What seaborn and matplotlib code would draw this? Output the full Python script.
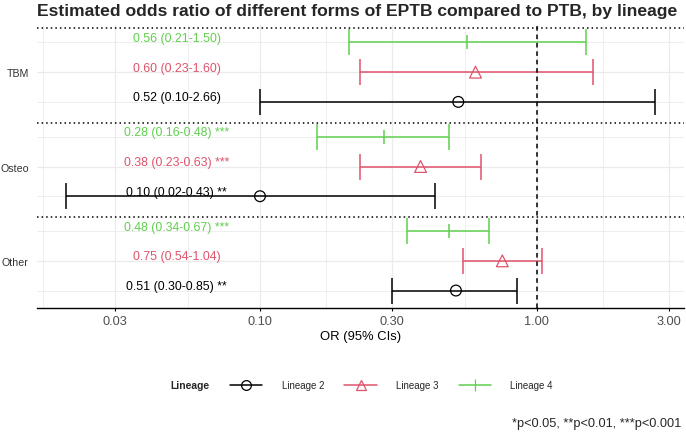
import numpy as np
import pandas as pd
import matplotlib
matplotlib.use("Agg")
import matplotlib.pyplot as plt
import matplotlib.transforms as mtransforms
import seaborn as sns
from matplotlib.lines import Line2D
from matplotlib.ticker import FixedLocator, NullFormatter

# data
sites = ["TBM", "Osteo", "Other"]
lineages = ["Lineage 2", "Lineage 3", "Lineage 4"]

or_l2 = [0.52, 0.10, 0.51]
lo_l2 = [0.10, 0.02, 0.30]
hi_l2 = [2.66, 0.43, 0.85]
stars_l2 = ["", "**", "**"]

or_l3 = [0.60, 0.38, 0.75]
lo_l3 = [0.23, 0.23, 0.54]
hi_l3 = [1.60, 0.63, 1.04]
stars_l3 = ["", "***", ""]

or_l4 = [0.56, 0.28, 0.48]
lo_l4 = [0.21, 0.16, 0.34]
hi_l4 = [1.50, 0.48, 0.67]
stars_l4 = ["", "***", "***"]

x_ticks = [0.03, 0.10, 0.30, 1.00, 3.00]
x_tick_labels = ["0.03", "0.10", "0.30", "1.00", "3.00"]
caption = "*p<0.05, **p<0.01, ***p<0.001"

# styling
palette = {"Lineage 2": "#000000", "Lineage 3": "#DF536B", "Lineage 4": "#61D04F"}
markers = {"Lineage 2": "o", "Lineage 3": "^", "Lineage 4": "|"}
sizes = {"Lineage 2": 60, "Lineage 3": 72, "Lineage 4": 100}
offsets = {"Lineage 2": 0.315, "Lineage 3": 0.0, "Lineage 4": -0.315}

rows = []
for lin, ors, los, his, sts in zip(lineages, [or_l2, or_l3, or_l4], [lo_l2, lo_l3, lo_l4],
                                   [hi_l2, hi_l3, hi_l4], [stars_l2, stars_l3, stars_l4]):
    for i, site in enumerate(sites):
        lab = f"{ors[i]:.2f} ({los[i]:.2f}-{his[i]:.2f})"
        if sts[i]:
            lab += " " + sts[i]
        rows.append(dict(Site=site, Lineage=lin, OR=ors[i], lo=los[i], hi=his[i],
                         label=lab, ypos=i + offsets[lin]))
df = pd.DataFrame(rows)

sns.set_theme(style="whitegrid")
plt.rcParams["font.family"] = ["Liberation Sans", "DejaVu Sans"]

W, H = 686, 435
fig = plt.figure(figsize=(W / 100, H / 100), dpi=100)
fig.patch.set_facecolor("white")
ax = fig.add_axes([37 / W, 1 - 309 / H, 647 / W, 283 / H])
ax.set_facecolor("white")
ax.set_xscale("log")

# labels sit just above their row line
text_tr = mtransforms.offset_copy(ax.transData, fig=fig, y=1.5, units="dots")

for lin in lineages:
    d = df[df.Lineage == lin]
    c = palette[lin]
    ax.errorbar(d.OR, d.ypos, xerr=[d.OR - d.lo, d.hi - d.OR], fmt="none",
                ecolor=c, elinewidth=1.1, capsize=9.3, capthick=1.1, zorder=3)
    m = markers[lin]
    if m == "|":
        kw = dict(color=c, linewidth=1.1)
    else:
        kw = dict(color=c, facecolor="none", edgecolor=c, linewidth=0.9)
    sns.scatterplot(data=d, x="OR", y="ypos", marker=m, s=sizes[lin], ax=ax,
                    zorder=4, legend=False, **kw)
    for _, r in d.iterrows():
        ax.text(0.05, r.ypos, r.label, ha="center", va="baseline", color=c,
                fontsize=8.9, zorder=5, transform=text_tr)

# reference line and group separators
ax.axvline(1, color="black", lw=1.1, ls=(0, (3, 2.5)), zorder=6)
for i in range(len(sites)):
    ax.axhline(i - 0.465, color="black", lw=1.1, ls=(0, (1, 2)), zorder=2)

# limits with ggplot-like 5% expansion in log space
lmin, lmax = np.log10(df.lo.min()), np.log10(df.hi.max())
pad = 0.05 * (lmax - lmin)
ax.set_xlim(10 ** (lmin - pad), 10 ** (lmax + pad))
ax.set_ylim(len(sites) - 0.5, -0.5)

lt = np.log10(x_ticks)
lt_ext = np.concatenate([[lt[0] - (lt[1] - lt[0])], lt])
ax.xaxis.set_major_locator(FixedLocator(x_ticks))
ax.set_xticklabels(x_tick_labels)
ax.xaxis.set_minor_locator(FixedLocator(10 ** ((lt_ext[:-1] + lt_ext[1:]) / 2)))
ax.xaxis.set_minor_formatter(NullFormatter())

ax.set_yticks(range(len(sites)))
ax.set_yticklabels(sites)
ax.set_yticks(sorted(df.ypos.unique()), minor=True)

ax.grid(True, which="major", color="#EBEBEB", lw=0.9)
ax.grid(True, which="minor", color="#EBEBEB", lw=0.6)
ax.set_axisbelow(True)

for s in ["top", "right", "left"]:
    ax.spines[s].set_visible(False)
ax.spines["bottom"].set_color("black")
ax.spines["bottom"].set_linewidth(1.0)

ax.tick_params(axis="x", which="major", length=2.5, width=0.8, color="black",
               labelsize=9.2, labelcolor="#4D4D4D", pad=2.5, bottom=True)
ax.tick_params(axis="x", which="minor", length=0)
ax.tick_params(axis="y", which="both", length=0, labelsize=7.7, labelcolor="#333333", pad=6)

ax.set_xlabel("OR (95% CIs)", fontsize=9.4, color="black", labelpad=2.5)
ax.set_ylabel("")

fig.text(37 / W, 1 - 16 / H, "Estimated odds ratio of different forms of EPTB compared to PTB, by lineage",
         fontsize=12.6, fontweight="bold", ha="left", va="baseline")

# legend
handles = []
for lin in lineages:
    m = markers[lin]
    handles.append(Line2D([], [], color=palette[lin], lw=1.1, marker=m,
                          markerfacecolor="none", markeredgecolor=palette[lin],
                          markersize=9 if m == "|" else 7, markeredgewidth=0.9))
fig.text(170 / W, 1 - 386 / H, "Lineage", fontsize=7.4, fontweight="bold", ha="left", va="center")
fig.legend(handles, lineages, loc="center", bbox_to_anchor=(391.5 / W, 1 - 386 / H),
           ncol=3, frameon=False, fontsize=7, handlelength=3.3, handletextpad=2.0,
           columnspacing=2.1, borderpad=0.2)

fig.text(681 / W, 1 - 424 / H, caption, fontsize=9.2, ha="right", va="center")

fig.savefig("out.png", dpi=100)
